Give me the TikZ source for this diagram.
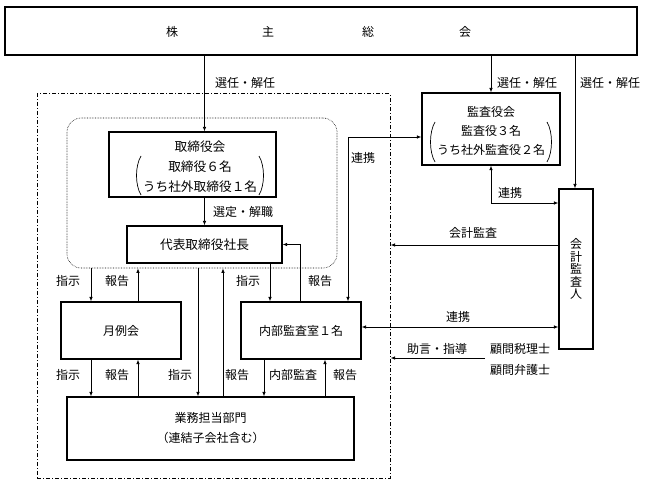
\documentclass[tikz,border=0pt]{standalone}
\usepackage{fontspec}
\setmainfont{Noto Sans CJK JP}
\usetikzlibrary{arrows.meta}
\begin{document}
\begin{tikzpicture}[x=1pt,y=-1pt,
  every node/.style={font=\fontsize{12}{20}\selectfont, inner sep=0pt},
  big/.style={font=\fontsize{12.7}{20}\selectfont},
  box/.style={draw, line width=1.1pt, align=center},
  lbl/.style={anchor=center},
  paren/.style={line width=0.7pt},
  arr/.style={line width=0.8pt, -{Latex[length=4.5pt,width=3.5pt]}},
  darr/.style={line width=0.8pt, {Latex[length=4.5pt,width=3.5pt]}-{Latex[length=4.5pt,width=3.5pt]}}]
\useasboundingbox (0,0) rectangle (647,486);
% frames
\node[draw, line width=1pt, dash pattern=on 4pt off 2pt on 1pt off 2pt, minimum width=353pt, minimum height=384pt] (outer) at (213.5,286) {};
\node[draw, line width=0.6pt, densely dotted, rounded corners=14pt, minimum width=270pt, minimum height=150pt] (group) at (202,193) {};
% top box
\node[box, line width=1.3pt, minimum width=632pt, minimum height=48pt] (top) at (321,31) {};
\node (t1) at (172,32) {株};
\node (t2) at (268,32) {主};
\node (t3) at (368,32) {総};
\node (t4) at (465,32) {会};
% board
\node[box, minimum width=167pt, minimum height=65pt] (board) at (192.5,164.5) {};
\node[big] (b1) at (200,147) {取締役会};
\node[big] (b2) at (200,167) {取締役６名};
\node[big] (b3) at (200,187) {うち社外取締役１名};
\draw[paren] (141,156) .. controls (135,166) and (135,185) .. (141,195);
\draw[paren] (259,156) .. controls (265,166) and (265,185) .. (259,195);
% others
\node[box, big, minimum width=155pt, minimum height=37pt] (daihyo) at (204.5,244.5) {代表取締役社長};
\node[box, minimum width=120pt, minimum height=57pt] (getsu) at (121,330.5) {月例会};
\node[box, minimum width=120pt, minimum height=57pt] (naibu) at (301,330.5) {内部監査室１名};
\node[box, minimum width=287pt, minimum height=63pt] (gyomu) at (210.5,428.5) {業務担当部門\\（連結子会社含む）};
% kansa
\node[box, minimum width=138pt, minimum height=72pt] (kansa) at (491,129) {};
\node (k1) at (491,112) {監査役会};
\node (k2) at (491,131) {監査役３名};
\node (k3) at (491,150) {うち社外監査役２名};
\draw[paren] (435,122) .. controls (429,132) and (429,152) .. (435,162);
\draw[paren] (547,122) .. controls (553,132) and (553,152) .. (547,162);
% kaikei
\node[box, minimum width=34pt, minimum height=160pt, font=\fontsize{12}{12.5}\selectfont] (kaikei) at (576,269) {会\\計\\監\\査\\人};
\node (komon1) at (520,349) {顧問税理士};
\node (komon2) at (520,370) {顧問弁護士};
% coordinates
\coordinate (jx) at (485,358);
% connectors from top
\draw[arr] (top.south -| daihyo.north) -- (board.north -| daihyo.north);
\draw[arr] (top.south -| kansa.north) -- (kansa.north);
\draw[arr] (top.south -| 575,0) -- (kaikei.north -| 575,0);
\draw[arr] (board.south -| daihyo.north) -- (daihyo.north);
% group to getsu / gyomu
\draw[arr] (group.south -| 91,0) -- (getsu.north -| 91,0);
\draw[arr] (getsu.north -| 138,0) -- (group.south -| 138,0);
\draw[arr] (group.south -| 198,0) -- (gyomu.north -| 198,0);
\draw[arr] (gyomu.north -| 223,0) -- (group.south -| 223,0);
\draw[arr] (getsu.south -| 91,0) -- (gyomu.north -| 91,0);
\draw[arr] (gyomu.north -| 138,0) -- (getsu.south -| 138,0);
% daihyo / naibu
\draw[arr] (daihyo.south -| 270,0) -- (naibu.north -| 270,0);
\draw[arr] (naibu.north -| 300,0) |- (daihyo.east);
\draw[arr] (naibu.south -| 264,0) -- (gyomu.north -| 264,0);
\draw[arr] (gyomu.north -| 325,0) -- (naibu.south -| 325,0);
% 連携 lines
\draw[darr] (naibu.north -| 348,0) |- (kansa.west |- 0,137);
\draw[darr] (kansa.south) |- (kaikei.west |- 0,203);
\draw[darr] (naibu.east |- 0,327) -- (kaikei.west |- 0,327);
\draw[arr] (kaikei.west |- 0,245) -- (outer.east |- 0,245);
\draw[arr] (jx) -- (outer.east |- jx);
% labels
\node[lbl] at (245,83) {選任・解任};
\node[lbl] at (527,83) {選任・解任};
\node[lbl] at (610,83) {選任・解任};
\node[lbl] at (243,212) {選定・解職};
\node[lbl] at (363,158) {連携};
\node[lbl] at (510,193) {連携};
\node[lbl] at (473,233) {会計監査};
\node[lbl] at (458,317) {連携};
\node[lbl] at (437,349) {助言・指導};
\node[lbl] at (68,281) {指示};
\node[lbl] at (117,281) {報告};
\node[lbl] at (248,281) {指示};
\node[lbl] at (320,281) {報告};
\node[lbl] at (68,375) {指示};
\node[lbl] at (117,375) {報告};
\node[lbl] at (180,375) {指示};
\node[lbl] at (237,375) {報告};
\node[lbl] at (293,375) {内部監査};
\node[lbl] at (345,375) {報告};
\end{tikzpicture}
\end{document}
